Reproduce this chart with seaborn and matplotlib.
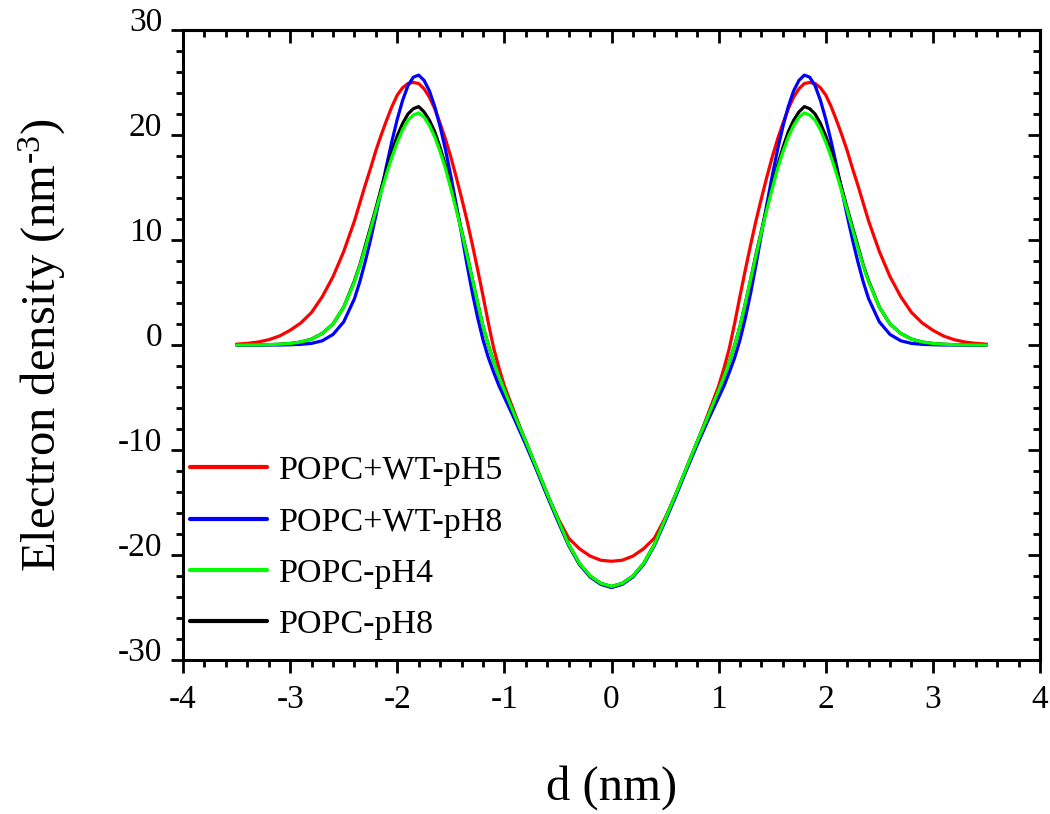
import numpy as np
import pandas as pd
import matplotlib
matplotlib.use("Agg")
import matplotlib.pyplot as plt
import seaborn as sns
from matplotlib.ticker import MultipleLocator, NullFormatter
from matplotlib.transforms import ScaledTranslation

# ---------------- data ----------------
d_nm = [-3.5, -3.4, -3.3, -3.2, -3.1, -3.0, -2.9, -2.8, -2.7, -2.6, -2.5,
        -2.4, -2.35, -2.3, -2.25, -2.2, -2.15, -2.1, -2.05, -2.0, -1.95, -1.9, -1.85, -1.8, -1.75,
        -1.7, -1.65, -1.6, -1.55, -1.5, -1.45, -1.4, -1.35, -1.3, -1.25, -1.2, -1.15, -1.1, -1.05, -1.0,
        -0.9, -0.8, -0.7, -0.6, -0.5, -0.4, -0.3, -0.2, -0.1,
        0.0,
        0.1, 0.2, 0.3, 0.4, 0.5, 0.6, 0.7, 0.8, 0.9,
        1.0, 1.05, 1.1, 1.15, 1.2, 1.25, 1.3, 1.35, 1.4, 1.45, 1.5, 1.55, 1.6, 1.65, 1.7, 1.75,
        1.8, 1.85, 1.9, 1.95, 2.0, 2.05, 2.1, 2.15, 2.2, 2.25, 2.3, 2.35, 2.4,
        2.5, 2.6, 2.7, 2.8, 2.9, 3.0, 3.1, 3.2, 3.3, 3.4, 3.5]

popc_wt_ph5 = [0.08, 0.15, 0.28, 0.5, 0.85, 1.4, 2.1, 3.1, 4.6, 6.5, 8.9,
               11.8, 13.5, 15.2, 16.8, 18.5, 20.0, 21.4, 22.7, 23.8, 24.5, 24.9, 25.0, 24.9, 24.4,
               23.6, 22.5, 21.1, 19.6, 17.9, 16.0, 14.0, 11.9, 9.6, 7.2, 4.7, 2.1, -0.3, -2.2, -3.9,
               -6.6, -9.3, -11.8, -14.3, -16.5, -18.4, -19.4, -20.1, -20.5,
               -20.6,
               -20.5, -20.1, -19.4, -18.4, -16.5, -14.3, -11.8, -9.3, -6.6,
               -3.9, -2.2, -0.3, 2.1, 4.7, 7.2, 9.6, 11.9, 14.0, 16.0, 17.9, 19.6, 21.1, 22.5, 23.6, 24.4,
               24.9, 25.0, 24.9, 24.5, 23.8, 22.7, 21.4, 20.0, 18.5, 16.8, 15.2, 13.5, 11.8,
               8.9, 6.5, 4.6, 3.1, 2.1, 1.4, 0.85, 0.5, 0.28, 0.15, 0.08]

popc_wt_ph8 = [0.0, 0.0, 0.0, 0.0, 0.0, 0.02, 0.06, 0.15, 0.4, 1.0, 2.2,
               4.4, 6.0, 7.9, 10.0, 12.3, 14.7, 17.1, 19.4, 21.5, 23.3, 24.7, 25.5, 25.7, 25.2,
               24.2, 22.7, 20.8, 18.6, 16.1, 13.4, 10.6, 7.7, 5.0, 2.6, 0.5, -1.2, -2.6, -3.9, -5.0,
               -7.2, -9.5, -11.9, -14.4, -16.8, -19.1, -20.9, -22.1, -22.8,
               -23.1,
               -22.8, -22.1, -20.9, -19.1, -16.8, -14.4, -11.9, -9.5, -7.2,
               -5.0, -3.9, -2.6, -1.2, 0.5, 2.6, 5.0, 7.7, 10.6, 13.4, 16.1, 18.6, 20.8, 22.7, 24.2, 25.2,
               25.7, 25.5, 24.7, 23.3, 21.5, 19.4, 17.1, 14.7, 12.3, 10.0, 7.9, 6.0, 4.4,
               2.2, 1.0, 0.4, 0.15, 0.06, 0.02, 0.0, 0.0, 0.0, 0.0, 0.0]

popc_ph4 = [0.0, 0.01, 0.015, 0.03, 0.07, 0.14, 0.28, 0.55, 1.1, 2.0, 3.6,
            6.0, 7.5, 9.2, 11.0, 12.8, 14.6, 16.3, 17.9, 19.3, 20.5, 21.4, 21.9, 22.1, 21.7,
            20.9, 19.8, 18.4, 16.8, 14.9, 12.9, 10.8, 8.6, 6.3, 4.0, 1.8, 0.0, -1.6, -3.0, -4.3,
            -6.8, -9.2, -11.7, -14.2, -16.6, -19.0, -20.8, -22.0, -22.7,
            -23.0,
            -22.7, -22.0, -20.8, -19.0, -16.6, -14.2, -11.7, -9.2, -6.8,
            -4.3, -3.0, -1.6, 0.0, 1.8, 4.0, 6.3, 8.6, 10.8, 12.9, 14.9, 16.8, 18.4, 19.8, 20.9, 21.7,
            22.1, 21.9, 21.4, 20.5, 19.3, 17.9, 16.3, 14.6, 12.8, 11.0, 9.2, 7.5, 6.0,
            3.6, 2.0, 1.1, 0.55, 0.28, 0.14, 0.07, 0.03, 0.015, 0.01, 0.0]

popc_ph8 = [0.0, 0.01, 0.015, 0.03, 0.07, 0.14, 0.28, 0.56, 1.1, 2.0, 3.6,
            6.1, 7.6, 9.4, 11.2, 13.0, 14.9, 16.7, 18.4, 19.9, 21.1, 22.0, 22.5, 22.7, 22.2,
            21.4, 20.3, 18.8, 17.1, 15.1, 13.1, 10.9, 8.7, 6.3, 4.0, 1.8, 0.0, -1.6, -3.0, -4.3,
            -6.8, -9.2, -11.7, -14.2, -16.6, -19.0, -20.8, -22.0, -22.7,
            -23.0,
            -22.7, -22.0, -20.8, -19.0, -16.6, -14.2, -11.7, -9.2, -6.8,
            -4.3, -3.0, -1.6, 0.0, 1.8, 4.0, 6.3, 8.7, 10.9, 13.1, 15.1, 17.1, 18.8, 20.3, 21.4, 22.2,
            22.7, 22.5, 22.0, 21.1, 19.9, 18.4, 16.7, 14.9, 13.0, 11.2, 9.4, 7.6, 6.1,
            3.6, 2.0, 1.1, 0.56, 0.28, 0.14, 0.07, 0.03, 0.015, 0.01, 0.0]

series_names = ["POPC+WT-pH5", "POPC+WT-pH8", "POPC-pH4", "POPC-pH8"]
series_values = [popc_wt_ph5, popc_wt_ph8, popc_ph4, popc_ph8]
series_colors = ["#ff0000", "#0000ff", "#00ff00", "#000000"]

x_ticks = [-4, -3, -2, -1, 0, 1, 2, 3, 4]
y_ticks = [-30, -20, -10, 0, 10, 20, 30]

# ---------------- plotting ----------------
sns.set_theme(style="white")
plt.rcParams["font.family"] = ["Liberation Serif", "DejaVu Serif"]
plt.rcParams["mathtext.fontset"] = "custom"
plt.rcParams["mathtext.rm"] = "Liberation Serif"
plt.rcParams["mathtext.it"] = "Liberation Serif:italic"
for key in ["text.color", "axes.labelcolor", "xtick.color", "ytick.color", "axes.edgecolor"]:
    plt.rcParams[key] = "black"

frames = []
for name, vals in zip(series_names, series_values):
    frames.append(pd.DataFrame({"d": d_nm, "rho": vals, "sample": name}))
df = pd.concat(frames, ignore_index=True)

fig = plt.figure(figsize=(10.5, 8.14), dpi=100)
ax = fig.add_axes([0.1743, 0.1892, 0.8162, 0.774])

palette = dict(zip(series_names, series_colors))
draw_order = ["POPC+WT-pH5", "POPC+WT-pH8", "POPC-pH8", "POPC-pH4"]
for name in draw_order:
    sub = df[df["sample"] == name]
    sns.lineplot(data=sub, x="d", y="rho", color=palette[name], linewidth=2.3,
                 ax=ax, label=name, sort=False, estimator=None)

ax.set_xlim(-4, 4)
ax.set_ylim(-30, 30)
ax.set_xticks(x_ticks)
ax.set_yticks(y_ticks)
ax.set_xticklabels([str(t) for t in x_ticks])
ax.set_yticklabels([str(t) for t in y_ticks])
ax.xaxis.set_minor_locator(MultipleLocator(0.2))
ax.yaxis.set_minor_locator(MultipleLocator(2))

for sp in ax.spines.values():
    sp.set_visible(True)
    sp.set_color("black")
    sp.set_linewidth(2.2)

ax.tick_params(which="both", direction="out", bottom=True, left=True, top=False, right=False,
               color="black", width=2.0, labelsize=24, labelcolor="black")
ax.tick_params(which="major", length=9)
ax.tick_params(which="minor", length=5)
ax.tick_params(axis="x", which="major", pad=9)
ax.tick_params(axis="y", which="major", pad=6)

# y tick labels sit slightly above their ticks in the reference
shift = ScaledTranslation(0, 11 / 100, fig.dpi_scale_trans)
for lab in ax.get_yticklabels():
    lab.set_transform(lab.get_transform() + shift)

# mirrored inward ticks on top and right
top = ax.secondary_xaxis("top")
top.set_xticks(x_ticks)
top.xaxis.set_minor_locator(MultipleLocator(0.2))
top.xaxis.set_major_formatter(NullFormatter())
top.tick_params(which="both", direction="in", width=2.0, color="black")
top.tick_params(which="major", length=9)
top.tick_params(which="minor", length=5)
top.spines["top"].set_linewidth(2.2)

right = ax.secondary_yaxis("right")
right.set_yticks(y_ticks)
right.yaxis.set_minor_locator(MultipleLocator(2))
right.yaxis.set_major_formatter(NullFormatter())
right.tick_params(which="both", direction="in", width=2.0, color="black")
right.tick_params(which="major", length=9)
right.tick_params(which="minor", length=5)
right.spines["right"].set_linewidth(2.2)

ax.set_xlabel("d (nm)", fontsize=35, labelpad=36)
ax.set_ylabel(r"Electron density (nm$^{\text{-3}}$)", fontsize=35, labelpad=36)

handles, labels = ax.get_legend_handles_labels()
hmap = dict(zip(labels, handles))
leg = ax.legend([hmap[n] for n in series_names], series_names, frameon=False,
                loc="center left", bbox_to_anchor=(0.0, 0.178), borderaxespad=0.0,
                borderpad=0.2, fontsize=24.5, handlelength=2.26, handletextpad=0.35,
                labelspacing=0.6)
for line in leg.get_lines():
    line.set_linewidth(3.0)

fig.savefig("out.png", dpi=100)
